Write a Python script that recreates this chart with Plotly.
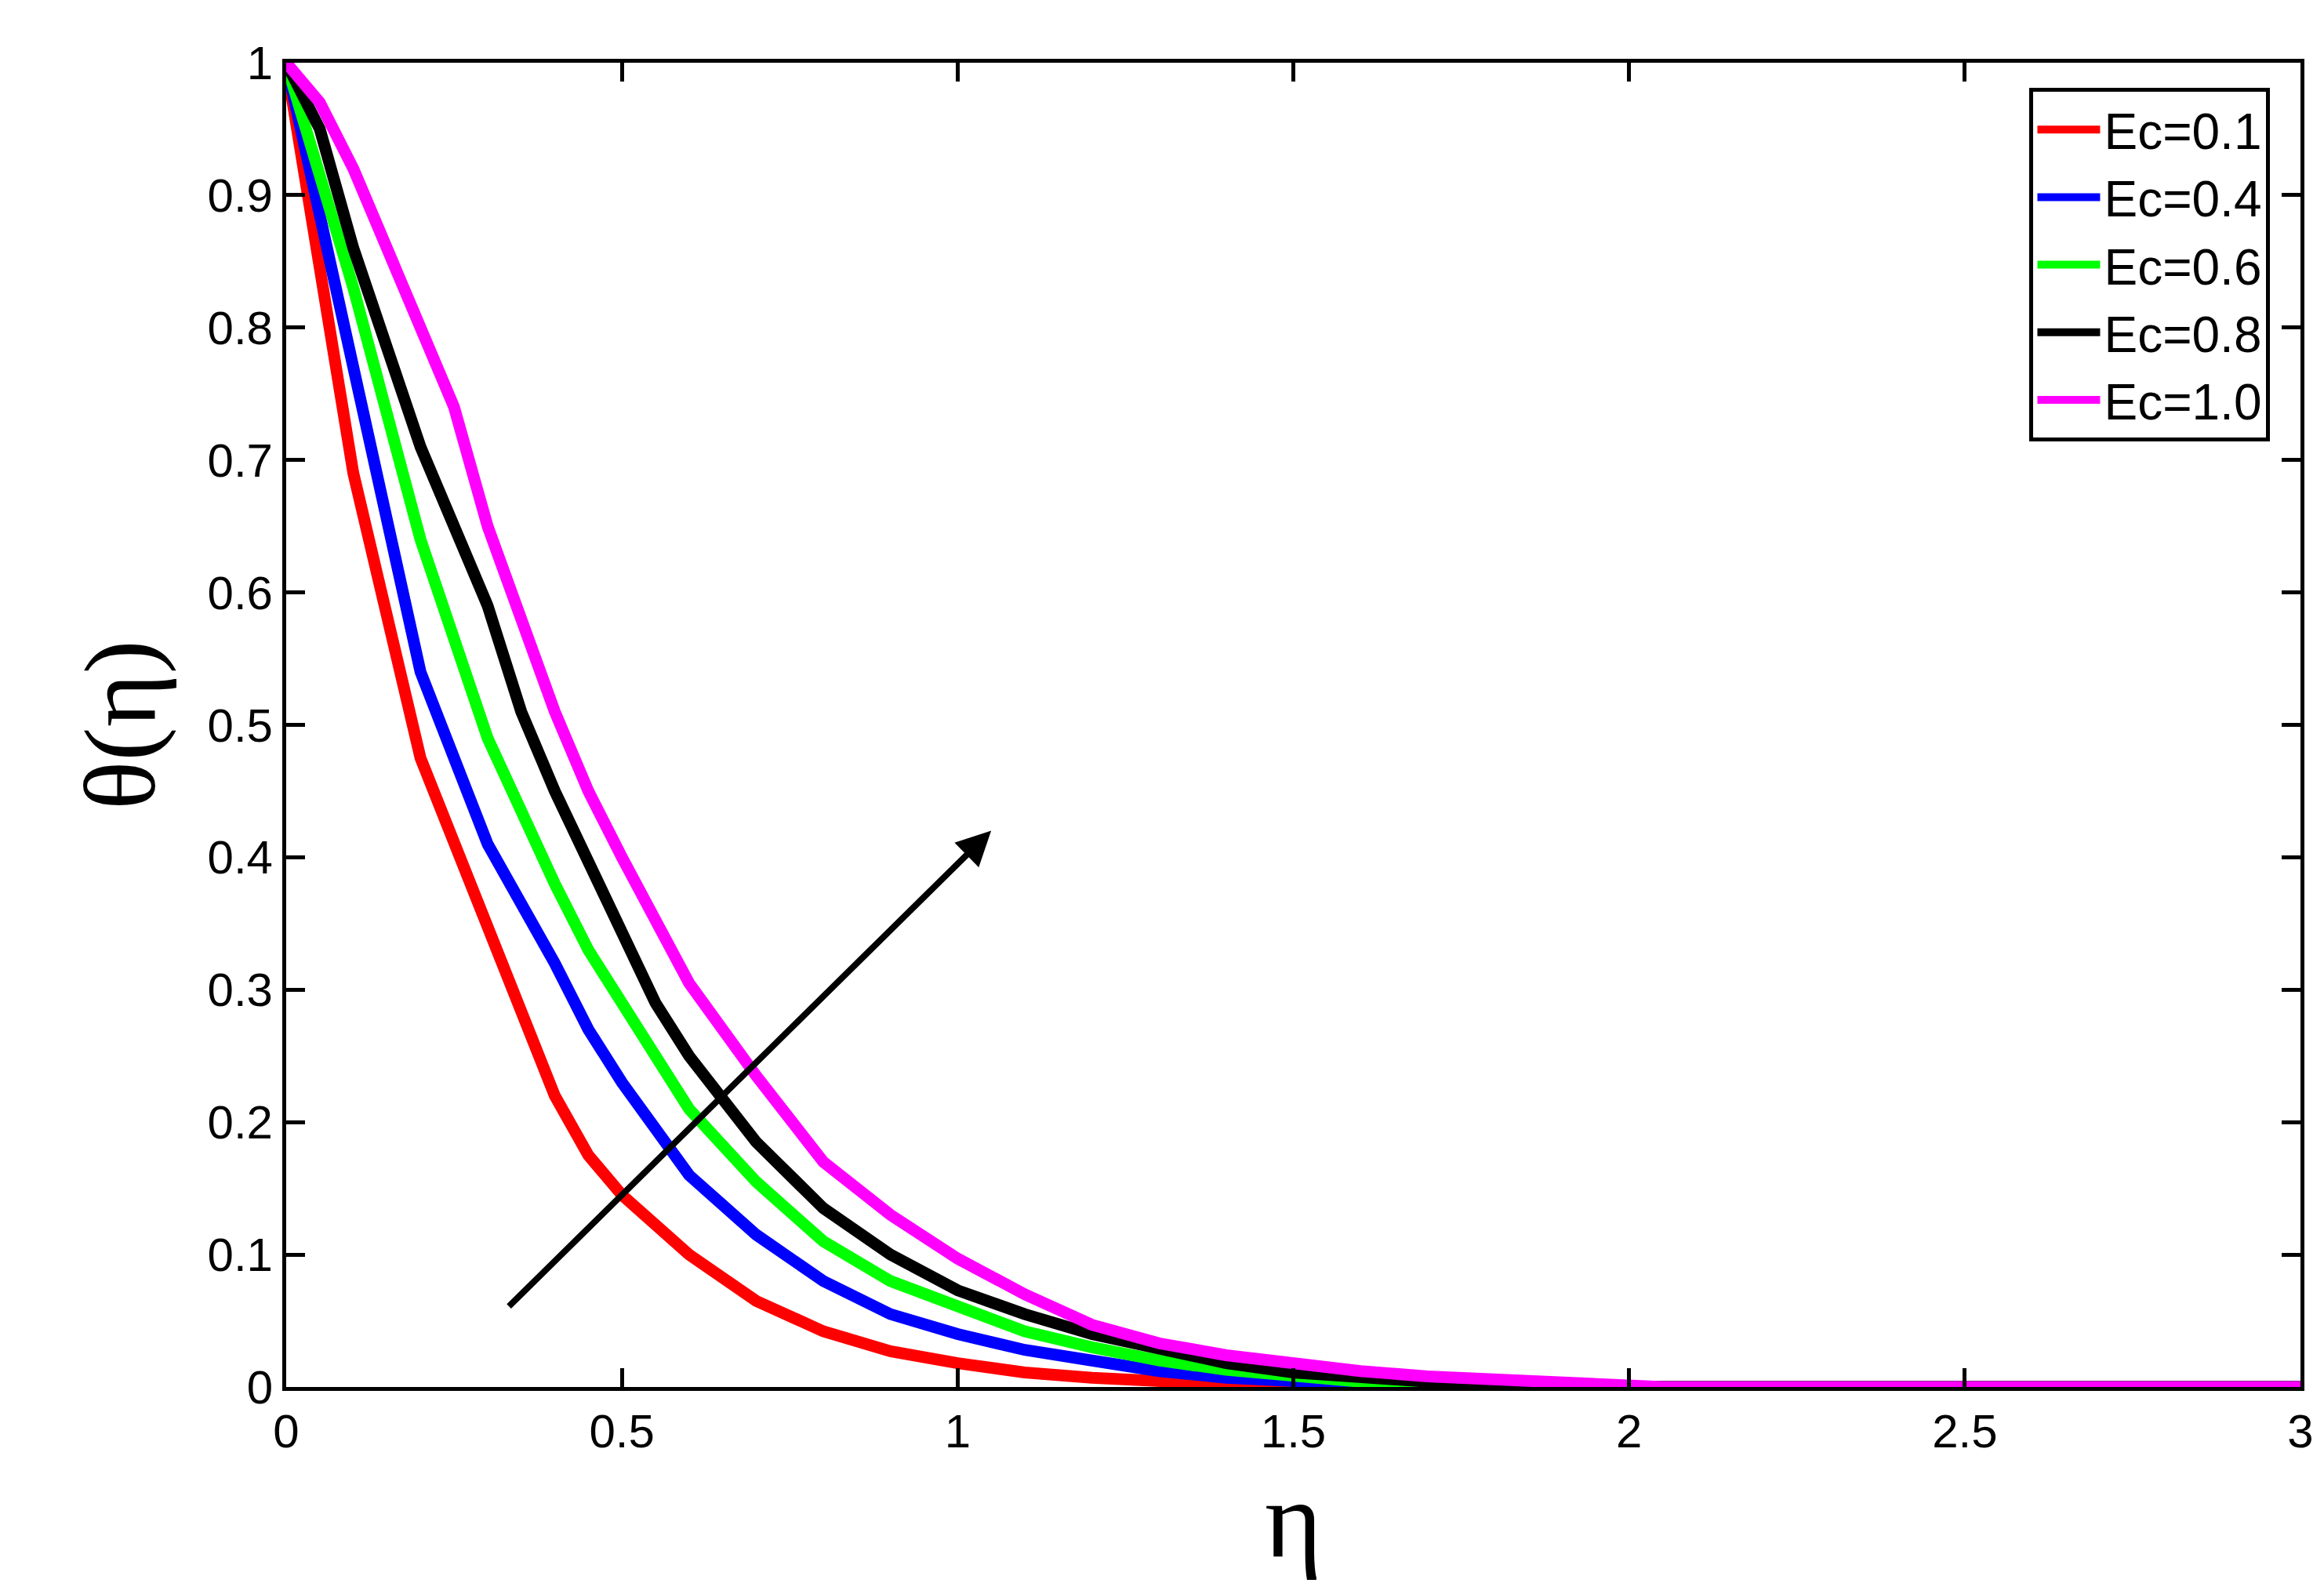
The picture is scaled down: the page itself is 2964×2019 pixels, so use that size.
import plotly.graph_objects as go

x_red = [0,0.1,0.2,0.3,0.4,0.45,0.5,0.6,0.7,0.8,0.9,1.0,1.1,1.2,1.3,1.4,1.5,1.7,3]
y_red = [1,0.69,0.475,0.35,0.22,0.175,0.145,0.1,0.065,0.042,0.027,0.018,0.011,0.007,0.004,0.002,0.001,0,0]
x_blue = [0,0.1,0.2,0.3,0.4,0.45,0.5,0.6,0.7,0.8,0.9,1.0,1.1,1.2,1.3,1.4,1.5,1.6,1.8,3]
y_blue = [1,0.77,0.54,0.41,0.32,0.27,0.23,0.16,0.115,0.08,0.055,0.04,0.028,0.02,0.012,0.007,0.004,0.002,0,0]
x_green = [0,0.1,0.2,0.3,0.4,0.45,0.5,0.6,0.7,0.8,0.9,1.0,1.1,1.2,1.3,1.4,1.5,1.6,1.7,1.9,3]
y_green = [1,0.83,0.64,0.49,0.38,0.33,0.29,0.21,0.155,0.11,0.08,0.06,0.042,0.03,0.02,0.013,0.008,0.004,0.002,0,0]
x_black = [0,0.05,0.1,0.2,0.3,0.35,0.4,0.5,0.55,0.6,0.7,0.8,0.9,1.0,1.1,1.2,1.3,1.4,1.5,1.6,1.7,1.8,2.0,3]
y_black = [1,0.95,0.86,0.71,0.59,0.51,0.45,0.34,0.29,0.25,0.185,0.135,0.1,0.073,0.055,0.04,0.028,0.018,0.011,0.007,0.004,0.002,0,0]
x_mag = [0,0.05,0.1,0.2,0.25,0.3,0.35,0.4,0.45,0.5,0.6,0.7,0.8,0.9,1.0,1.1,1.2,1.3,1.4,1.5,1.6,1.7,1.8,2.0,2.05,3]
y_mag = [1,0.97,0.92,0.8,0.74,0.65,0.58,0.51,0.45,0.4,0.305,0.235,0.17,0.13,0.097,0.07,0.047,0.033,0.024,0.017,0.012,0.008,0.006,0.003,0,0]

series = [("Ec=0.1", x_red, y_red, "#ff0000"),
          ("Ec=0.4", x_blue, y_blue, "#0000ff"),
          ("Ec=0.6", x_green, y_green, "#00ff00"),
          ("Ec=0.8", x_black, y_black, "#000000"),
          ("Ec=1.0", x_mag, y_mag, "#ff00ff")]

fig = go.Figure()
for name, xs, ys, c in series:
    fig.add_trace(go.Scatter(x=xs, y=ys, mode="lines", name=name, line=dict(color=c, width=15)))

fig.add_annotation(x=1.05, y=0.42, ax=0.33, ay=0.06, xref="x", yref="y", axref="x", ayref="y",
                   text="", showarrow=True, arrowhead=2, arrowsize=1.1, arrowwidth=8, arrowcolor="black")

axis_common = dict(showline=True, linecolor="black", linewidth=5, mirror="ticks", ticks="inside",
                   ticklen=24, tickwidth=5, tickcolor="black", showgrid=False, zeroline=False,
                   tickfont=dict(family="Liberation Sans, Arial", size=60, color="black"))
fig.update_xaxes(range=[0, 3], dtick=0.5, title=dict(text="η", font=dict(family="Liberation Serif, Times New Roman", size=140, color="black"), standoff=30), **axis_common)
fig.update_yaxes(range=[0, 1], tickvals=[0,0.1,0.2,0.3,0.4,0.5,0.6,0.7,0.8,0.9,1],
                 ticktext=["0","0.1","0.2","0.3","0.4","0.5","0.6","0.7","0.8","0.9","1"],
                 title=dict(text="θ(η)", font=dict(family="Liberation Serif, Times New Roman", size=130, color="black"), standoff=25), **axis_common)

fig.update_layout(width=2964, height=2019, plot_bgcolor="white", paper_bgcolor="white",
                  margin=dict(l=357, r=38, t=72, b=258),
                  legend=dict(x=0.985, y=0.981, xanchor="right", yanchor="top", bgcolor="white",
                              bordercolor="black", borderwidth=5,
                              font=dict(family="Liberation Sans, Arial", size=64, color="black"),
                              itemwidth=80, tracegroupgap=10))
fig.write_html("out.html")
